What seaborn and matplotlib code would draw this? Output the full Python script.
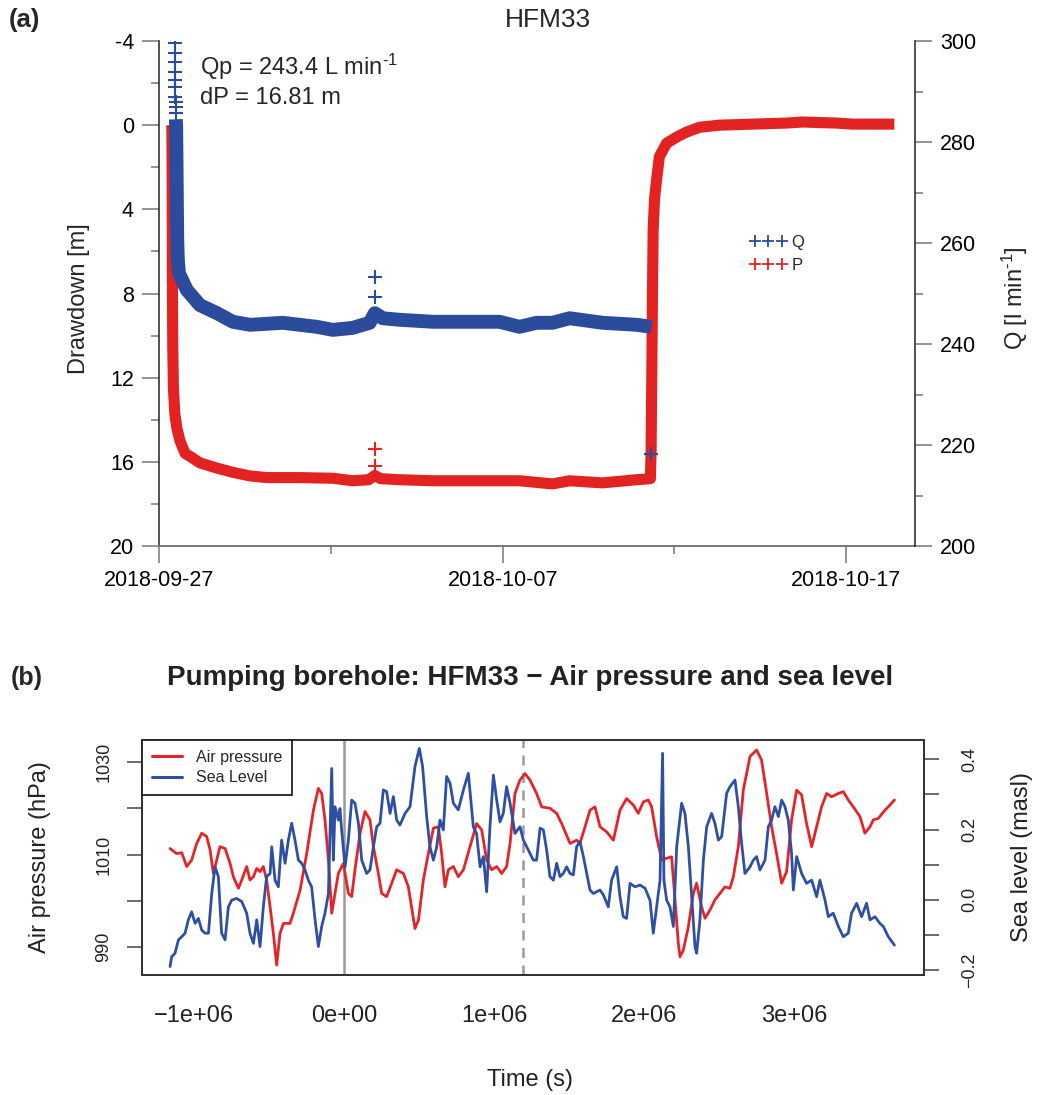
import numpy as np
import pandas as pd
import matplotlib
matplotlib.use("Agg")
import matplotlib.pyplot as plt
import matplotlib.dates as mdates
from matplotlib.lines import Line2D
import seaborn as sns

# ---------------- Panel (a) data : days since 2018-09-27 ----------------
START = "2018-09-27"
p_days = [0.37, 0.375, 0.38, 0.385, 0.39, 0.40, 0.42, 0.46, 0.52, 0.61,
          0.76, 0.96, 1.19, 1.69, 2.15, 2.65, 3.14, 4.10, 5.06, 5.64,
          6.10, 6.28, 6.45, 7.00, 7.97, 8.95, 9.91, 10.50, 11.45, 11.95,
          12.90, 13.90, 14.30, 14.32, 14.34, 14.36, 14.38, 14.42, 14.48, 14.56,
          14.77, 15.06, 15.35, 15.73, 16.31, 17.27, 18.26, 18.72, 19.71, 20.17,
          21.16, 21.40]
p_drawdown = [0.0, 0.3, 1.5, 4.0, 7.5, 10.5, 12.5, 13.7, 14.4, 15.0,
              15.6, 15.8, 16.05, 16.3, 16.5, 16.67, 16.75, 16.75, 16.78, 16.9,
              16.85, 16.65, 16.8, 16.85, 16.9, 16.9, 16.9, 16.9, 17.05, 16.9,
              17.0, 16.85, 16.8, 15.5, 12.0, 8.0, 5.0, 3.5, 2.6, 1.5,
              0.86, 0.57, 0.33, 0.1, 0.0, -0.05, -0.1, -0.15, -0.1, -0.05,
              -0.05, -0.05]

q_col_days = [0.47, 0.47, 0.47, 0.475, 0.475, 0.48, 0.48, 0.485, 0.485, 0.49]
q_col_flow = [299.6, 297.6, 295.8, 293.9, 292.3, 290.9, 288.9, 287.9, 286.9, 285.7]

q_days = [0.49, 0.50, 0.51, 0.52, 0.53, 0.55, 0.58, 0.67, 0.81, 1.19,
          1.69, 2.15, 2.65, 3.60, 4.59, 5.06, 5.64, 6.13, 6.28, 6.51,
          7.00, 7.97, 8.95, 9.91, 10.49, 10.99, 11.45, 11.95, 12.91, 13.90,
          14.33]
q_flow = [284.5, 283.0, 276.0, 268.0, 261.0, 256.5, 254.0, 252.7, 250.7, 247.7,
          246.1, 244.4, 243.8, 244.2, 243.4, 242.8, 243.2, 244.2, 246.1, 245.1,
          244.8, 244.4, 244.4, 244.4, 243.4, 244.2, 244.2, 245.1, 244.2, 243.8,
          243.4]

spike_days = [6.28, 6.28]
spike_p = [15.4, 16.2]
spike_q = [253.3, 249.3]
q_last_day = [14.33]
q_last_flow = [218.2]

# ---------------- Panel (b) data : time in 1e6 s ----------------
ap_t = [-1.160, -1.116, -1.082, -1.049, -1.016, -0.982, -0.949, -0.916, -0.893, -0.871,
        -0.849, -0.827, -0.793, -0.760, -0.738, -0.704, -0.682, -0.649, -0.627, -0.604,
        -0.582, -0.560, -0.538, -0.516, -0.493, -0.471, -0.449, -0.427, -0.404, -0.360,
        -0.338, -0.293, -0.249, -0.204, -0.171, -0.149, -0.127, -0.104, -0.082, -0.060,
        -0.038, -0.004, 0.029, 0.051, 0.073, 0.107, 0.140, 0.173, 0.196, 0.229,
        0.251, 0.284, 0.318, 0.351, 0.396, 0.429, 0.473, 0.496, 0.529, 0.562,
        0.596, 0.629, 0.651, 0.673, 0.696, 0.729, 0.762, 0.796, 0.840, 0.884,
        0.918, 0.951, 0.984, 1.018, 1.051, 1.084, 1.107, 1.140, 1.173, 1.207,
        1.240, 1.284, 1.318, 1.373, 1.418, 1.451, 1.507, 1.551, 1.573, 1.607,
        1.640, 1.673, 1.707, 1.751, 1.796, 1.840, 1.884, 1.929, 1.962, 1.996,
        2.029, 2.051, 2.084, 2.118, 2.151, 2.184, 2.207, 2.229, 2.240, 2.262,
        2.296, 2.329, 2.351, 2.384, 2.407, 2.440, 2.473, 2.507, 2.540, 2.573,
        2.596, 2.629, 2.662, 2.707, 2.751, 2.784, 2.818, 2.851, 2.884, 2.918,
        2.951, 2.984, 3.018, 3.051, 3.084, 3.118, 3.151, 3.184, 3.218, 3.251,
        3.296, 3.329, 3.362, 3.396, 3.440, 3.473, 3.507, 3.529, 3.562, 3.607,
        3.640, 3.670]
ap_hpa = [1011.3, 1010.2, 1010.4, 1007.4, 1008.8, 1012.4, 1014.6, 1013.9, 1011.0, 1005.9,
          1008.8, 1011.7, 1011.3, 1008.1, 1005.2, 1002.7, 1004.5, 1007.4, 1004.5, 1005.2,
          1007.0, 1006.3, 1007.4, 1004.5, 998.7, 992.9, 986.1, 992.9, 995.1, 995.1,
          997.3, 1002.3, 1010.2, 1019.6, 1024.3, 1023.2, 1017.5, 1008.8, 997.3, 1001.6,
          1005.9, 1008.1, 1001.6, 1000.9, 1006.7, 1014.6, 1019.3, 1017.5, 1011.7, 1005.9,
          1001.6, 1000.9, 1003.8, 1006.7, 1005.9, 1003.0, 994.0, 995.8, 1004.5, 1010.2,
          1015.7, 1016.0, 1010.2, 1003.0, 1006.7, 1007.4, 1005.2, 1006.7, 1011.7, 1016.7,
          1015.3, 1008.8, 1006.7, 1007.4, 1005.9, 1007.4, 1012.4, 1023.2, 1026.1, 1027.5,
          1026.1, 1023.2, 1020.3, 1020.0, 1018.9, 1016.7, 1012.4, 1013.1, 1012.4, 1016.0,
          1019.6, 1020.3, 1016.0, 1014.9, 1013.1, 1019.6, 1022.1, 1020.7, 1018.9, 1021.4,
          1021.8, 1020.3, 1013.9, 1008.8, 1009.2, 1009.5, 1000.2, 990.8, 987.9, 989.3,
          994.4, 1001.6, 1003.8, 998.7, 996.2, 998.0, 1000.2, 1001.6, 1003.0, 1002.7,
          1005.2, 1011.7, 1023.9, 1031.2, 1032.6, 1030.4, 1023.2, 1016.0, 1010.2, 1003.8,
          1006.3, 1017.5, 1023.9, 1022.9, 1016.7, 1011.7, 1016.0, 1020.3, 1023.2, 1022.5,
          1023.2, 1023.6, 1021.8, 1020.3, 1018.2, 1014.6, 1016.0, 1017.5, 1017.8, 1019.6,
          1020.7, 1021.8]

sl_t = [-1.160, -1.149, -1.127, -1.104, -1.082, -1.060, -1.038, -1.016, -0.993, -0.971,
        -0.949, -0.927, -0.904, -0.882, -0.860, -0.838, -0.816, -0.793, -0.771, -0.749,
        -0.716, -0.682, -0.649, -0.627, -0.604, -0.582, -0.560, -0.538, -0.516, -0.493,
        -0.482, -0.460, -0.438, -0.416, -0.393, -0.371, -0.349, -0.327, -0.304, -0.282,
        -0.260, -0.238, -0.216, -0.193, -0.171, -0.149, -0.127, -0.104, -0.082, -0.071,
        -0.060, -0.038, -0.027, -0.016, 0.007, 0.029, 0.051, 0.073, 0.096, 0.118,
        0.151, 0.173, 0.196, 0.218, 0.240, 0.262, 0.284, 0.307, 0.329, 0.351,
        0.373, 0.407, 0.440, 0.473, 0.502, 0.524, 0.551, 0.573, 0.596, 0.618,
        0.640, 0.662, 0.684, 0.707, 0.729, 0.762, 0.796, 0.829, 0.862, 0.884,
        0.907, 0.929, 0.951, 0.973, 0.996, 1.018, 1.040, 1.062, 1.084, 1.107,
        1.140, 1.173, 1.196, 1.218, 1.240, 1.262, 1.284, 1.307, 1.329, 1.351,
        1.373, 1.396, 1.418, 1.440, 1.462, 1.484, 1.507, 1.529, 1.551, 1.573,
        1.596, 1.618, 1.640, 1.662, 1.684, 1.707, 1.729, 1.762, 1.784, 1.818,
        1.840, 1.862, 1.884, 1.907, 1.940, 1.973, 2.007, 2.040, 2.062, 2.084,
        2.107, 2.124, 2.133, 2.151, 2.173, 2.196, 2.218, 2.251, 2.273, 2.296,
        2.318, 2.340, 2.351, 2.373, 2.396, 2.418, 2.451, 2.473, 2.496, 2.518,
        2.551, 2.573, 2.607, 2.629, 2.651, 2.673, 2.707, 2.729, 2.751, 2.773,
        2.807, 2.829, 2.851, 2.873, 2.896, 2.918, 2.940, 2.962, 2.984, 2.996,
        3.018, 3.051, 3.084, 3.118, 3.151, 3.173, 3.207, 3.229, 3.262, 3.296,
        3.329, 3.362, 3.384, 3.418, 3.451, 3.484, 3.507, 3.540, 3.573, 3.596,
        3.629, 3.670]
sl_masl = [-0.190, -0.162, -0.152, -0.114, -0.105, -0.095, -0.057, -0.034, -0.067, -0.053,
           -0.086, -0.095, -0.095, 0.018, 0.094, 0.066, -0.095, -0.114, -0.020, -0.001,
           0.004, -0.005, -0.038, -0.095, -0.124, -0.057, -0.133, -0.020, 0.066, 0.075,
           0.151, 0.056, 0.037, 0.170, 0.104, 0.170, 0.218, 0.170, 0.113, 0.104,
           0.085, 0.056, 0.037, -0.057, -0.133, -0.076, -0.038, 0.018, 0.374, 0.113,
           0.265, 0.227, 0.260, 0.199, 0.094, 0.170, 0.284, 0.275, 0.218, 0.113,
           0.075, 0.085, 0.151, 0.208, 0.218, 0.313, 0.308, 0.246, 0.294, 0.227,
           0.213, 0.246, 0.265, 0.379, 0.431, 0.379, 0.237, 0.151, 0.113, 0.151,
           0.227, 0.199, 0.351, 0.332, 0.275, 0.256, 0.313, 0.360, 0.208, 0.189,
           0.094, 0.123, 0.023, 0.208, 0.355, 0.284, 0.222, 0.246, 0.322, 0.275,
           0.189, 0.208, 0.170, 0.151, 0.132, 0.113, 0.113, 0.204, 0.199, 0.142,
           0.066, 0.056, 0.104, 0.066, 0.075, 0.094, 0.075, 0.071, 0.151, 0.166,
           0.123, 0.075, 0.028, 0.018, 0.023, 0.028, 0.014, -0.020, 0.056, 0.094,
           0.009, -0.048, -0.053, 0.047, 0.037, 0.042, 0.033, -0.001, -0.095, -0.020,
           0.056, 0.417, 0.056, -0.001, -0.020, -0.076, 0.151, 0.275, 0.246, 0.151,
           0.009, -0.133, -0.152, -0.057, 0.113, 0.208, 0.246, 0.218, 0.170, 0.180,
           0.303, 0.322, 0.341, 0.265, 0.161, 0.075, 0.094, 0.113, 0.123, 0.085,
           0.113, 0.208, 0.227, 0.265, 0.237, 0.284, 0.265, 0.227, 0.132, 0.028,
           0.123, 0.075, 0.047, 0.056, 0.009, 0.056, -0.001, -0.048, -0.038, -0.076,
           -0.105, -0.095, -0.038, -0.010, -0.048, -0.010, -0.057, -0.048, -0.067, -0.076,
           -0.105, -0.129]

x_ticks_b = [-1e6, 0, 1e6, 2e6, 3e6]
x_ticklabels_b = ["\u22121e+06", "0e+00", "1e+06", "2e+06", "3e+06"]
ap_ticks = [990, 1000, 1010, 1020, 1030]
ap_ticklabels = ["990", "", "1010", "", "1030"]
sl_ticks = [-0.2, -0.1, 0.0, 0.1, 0.2, 0.3, 0.4]
sl_ticklabels = ["\u22120.2", "", "0.0", "", "0.2", "", "0.4"]
pump_start = 0.0
pump_stop = 1.19e6

# ---------------- style ----------------
sns.set_theme(style="white")
plt.rcParams["font.family"] = ["Liberation Sans", "DejaVu Sans"]
plt.rcParams["mathtext.fontset"] = "custom"
plt.rcParams["mathtext.rm"] = "Liberation Sans"
plt.rcParams["mathtext.it"] = "Liberation Sans:italic"
plt.rcParams["mathtext.bf"] = "Liberation Sans:bold"

RED_A = "#e32222"
BLUE_A = "#2b4c9c"
RED_B = "#e5242a"
BLUE_B = "#2f50a2"
TICK_GREY = "#777777"

W, H = 1041, 1095
fig = plt.figure(figsize=(W / 100, H / 100), dpi=100)

def fx(px):
    return px / W

def fy(py):
    return 1 - py / H

# ================= Panel (a) =================
ax = fig.add_axes([fx(159), fy(546), fx(915 - 159), (546 - 41) / H])
ax2 = ax.twinx()
ax2.set_position(ax.get_position())

start = pd.Timestamp(START)
def to_dates(days):
    return pd.Series(start + pd.to_timedelta(np.array(days, dtype=float), unit="D"))

sns.lineplot(x=to_dates(p_days), y=p_drawdown, ax=ax, color=RED_A,
             linewidth=8.0, sort=False, estimator=None, solid_capstyle="butt")
sns.scatterplot(x=to_dates(spike_days), y=spike_p, ax=ax, color=RED_A,
                marker="+", s=90, linewidth=1.5, zorder=3)

sns.lineplot(x=to_dates(q_days), y=q_flow, ax=ax2, color=BLUE_A,
             linewidth=10.0, sort=False, estimator=None, solid_capstyle="butt")
sns.scatterplot(x=to_dates(q_col_days), y=q_col_flow, ax=ax2, color=BLUE_A,
                marker="+", s=90, linewidth=1.5, zorder=3)
sns.scatterplot(x=to_dates(spike_days), y=spike_q, ax=ax2, color=BLUE_A,
                marker="+", s=90, linewidth=1.5, zorder=3)
sns.scatterplot(x=to_dates(q_last_day), y=q_last_flow, ax=ax2, color=BLUE_A,
                marker="+", s=90, linewidth=1.5, zorder=3)

x0 = mdates.date2num(pd.Timestamp("2018-09-27"))
x1 = mdates.date2num(pd.Timestamp("2018-10-19"))
for a in (ax, ax2):
    a.set_xlim(x0, x1)
    a.set_xlabel("")
    a.set_ylabel("")

ax.set_ylim(20, -4)
ax.set_yticks([-4, 0, 4, 8, 12, 16, 20])
ax.set_yticklabels(["-4", "0", "4", "8", "12", "16", "20"])
ax.set_yticks([-2, 2, 6, 10, 14, 18], minor=True)
ax2.set_ylim(200, 300)
ax2.set_yticks([200, 220, 240, 260, 280, 300])
ax2.set_yticks([210, 230, 250, 270, 290], minor=True)

maj = [mdates.date2num(pd.Timestamp(d)) for d in ["2018-09-27", "2018-10-07", "2018-10-17"]]
mnr = [mdates.date2num(pd.Timestamp(d)) for d in ["2018-10-02", "2018-10-12"]]
ax.set_xticks(maj)
ax.set_xticklabels(["2018-09-27", "2018-10-07", "2018-10-17"])
ax.set_xticks(mnr, minor=True)

for a in (ax, ax2):
    a.tick_params(which="major", length=12, width=1.1, color=TICK_GREY,
                  labelsize=15.5, labelcolor="black", direction="out")
    a.tick_params(which="minor", length=6, width=1.1, color=TICK_GREY, direction="out")
ax.tick_params(axis="y", which="both", left=True, right=False, pad=6)
ax.tick_params(axis="x", which="both", bottom=True, pad=5)
ax2.tick_params(axis="y", which="both", right=True, left=False, pad=6)

ax.spines["top"].set_visible(False)
ax.spines["right"].set_visible(False)
ax.spines["left"].set_color("#222222")
ax.spines["bottom"].set_color(TICK_GREY)
ax.spines["left"].set_linewidth(1.1)
ax.spines["bottom"].set_linewidth(1.4)
for s in ("top", "left", "bottom"):
    ax2.spines[s].set_visible(False)
ax2.spines["right"].set_color("#222222")
ax2.spines["right"].set_linewidth(1.1)

ax.set_ylabel("Drawdown [m]", fontsize=17)
ax.yaxis.label.set_va("center")
ax.yaxis.set_label_coords((79 - 159) / 756, 0.49)
ax2.set_ylabel("Q [l min$^{\\mathregular{\u20101}}$]", fontsize=17)
ax2.yaxis.label.set_va("center")
ax2.yaxis.set_label_coords((1015 - 159) / 756, 0.49)

leg_handles = [Line2D([], [], color=BLUE_A, marker="+", linestyle="None",
                      markersize=8, markeredgewidth=1.3),
               Line2D([], [], color=RED_A, marker="+", linestyle="None",
                      markersize=8, markeredgewidth=1.3)]
ax2.legend(leg_handles, ["Q", "P"], loc="upper left", numpoints=3,
           bbox_to_anchor=((750 - 159) / 756, 1 - (235 - 41) / 505),
           frameon=False, fontsize=12, handlelength=2.2, handletextpad=0.3,
           labelspacing=0.45, borderpad=0, borderaxespad=0)

fig.text(fx(548), fy(20), "HFM33", fontsize=19, ha="center", va="center")
fig.text(fx(9), fy(20), "(a)", fontsize=18.5, fontweight="bold", ha="left", va="center")
fig.text(fx(200), fy(67), "Qp = 243.4 L min$^{\\mathregular{\u20101}}$", fontsize=17,
         ha="left", va="center")
fig.text(fx(200), fy(98), "dP = 16.81 m", fontsize=17, ha="left", va="center")

# ================= Panel (b) =================
bx = fig.add_axes([fx(142), fy(975), fx(924 - 142), (975 - 740) / H])
bx2 = bx.twinx()
bx2.set_position(bx.get_position())

bx.axvline(pump_start, color="#9a9a9a", linewidth=1.8, zorder=1)
bx.axvline(pump_stop, color="#9a9a9a", linewidth=1.8, linestyle=(0, (4, 3)), zorder=1)

t_ap = np.array(ap_t) * 1e6
t_sl = np.array(sl_t) * 1e6
sns.lineplot(x=t_ap, y=ap_hpa, ax=bx, color=RED_B, linewidth=2.0,
             sort=False, estimator=None, zorder=3)
sns.lineplot(x=t_sl, y=sl_masl, ax=bx2, color=BLUE_B, linewidth=2.0,
             sort=False, estimator=None, zorder=3)

bx.set_xlim(-1.347e6, 3.867e6)
bx2.set_xlim(-1.347e6, 3.867e6)
bx.set_ylim(983.95, 1034.76)
bx2.set_ylim(-0.214, 0.455)

bx.set_xticks(x_ticks_b)
bx.set_xticklabels(x_ticklabels_b)
bx.set_yticks(ap_ticks)
bx.set_yticklabels(ap_ticklabels, rotation=90, va="center")
bx2.set_yticks(sl_ticks)
bx2.set_yticklabels(sl_ticklabels, rotation=90, va="center")

for a in (bx, bx2):
    a.tick_params(length=10.5, width=1.1, color="#444444", direction="out")
    for s in a.spines.values():
        s.set_color("#333333")
        s.set_linewidth(1.3)
bx.tick_params(axis="x", labelsize=17, pad=11, labelcolor="#222222")
bx.tick_params(axis="y", labelsize=13, pad=11, labelcolor="#222222")
bx2.tick_params(axis="y", labelsize=13, pad=16, labelcolor="#222222")

bx.set_xlabel("Time (s)", fontsize=17, color="#222222")
bx.xaxis.label.set_va("center")
bx.xaxis.set_label_coords((530 - 142) / 782, (975 - 1080) / 235)
bx.set_ylabel("Air pressure (hPa)", fontsize=17, color="#222222")
bx.yaxis.label.set_va("center")
bx.yaxis.set_label_coords((40 - 142) / 782, 0.5)
bx2.set_ylabel("Sea level (masl)", fontsize=17, color="#222222")
bx2.yaxis.label.set_va("center")
bx2.yaxis.set_label_coords((1022 - 142) / 782, 0.5)

leg_b = [Line2D([], [], color=RED_B, linewidth=2.2),
         Line2D([], [], color=BLUE_B, linewidth=2.2)]
lg = bx2.legend(leg_b, ["Air pressure", "Sea Level"], loc="upper left",
                borderaxespad=0, fontsize=11.5, handlelength=1.9,
                handletextpad=0.9, labelspacing=0.35, borderpad=0.6,
                fancybox=False, framealpha=1, edgecolor="#222222")
lg.get_frame().set_linewidth(1.3)

fig.text(fx(530), fy(678), "Pumping borehole: HFM33 \u2212 Air pressure and sea level",
         fontsize=20, fontweight="bold", ha="center", va="center", color="#222222")
fig.text(fx(11), fy(678), "(b)", fontsize=18, fontweight="bold", ha="left", va="center")

fig.savefig("out.png", dpi=100)
